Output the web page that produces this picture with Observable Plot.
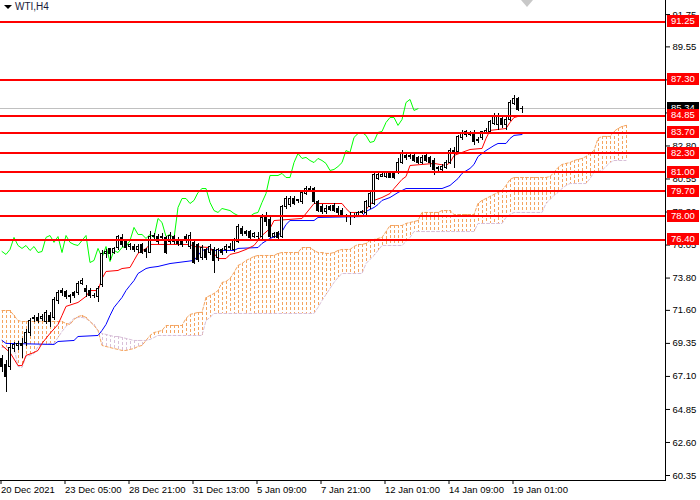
<!DOCTYPE html>
<html><head><meta charset="utf-8">
<script src="https://cdn.jsdelivr.net/npm/d3@7"></script>
<script src="https://cdn.jsdelivr.net/npm/@observablehq/plot@0.6"></script>
<style>
body{margin:0;background:#fff;}
#wrap{position:relative;width:700px;height:500px;overflow:hidden;background:#fff;}
#wrap svg .crisp{shape-rendering:crispEdges;}
#title{position:absolute;left:4px;top:1px;font:10px "Liberation Sans",Arial,sans-serif;color:#1a1a3a;}
#title span.tri{display:inline-block;width:0;height:0;border-left:4px solid transparent;border-right:4px solid transparent;border-top:4px solid #000;margin-right:3px;vertical-align:middle;}
#shift{position:absolute;left:521px;top:0;width:0;height:0;border-left:6px solid transparent;border-right:6px solid transparent;border-top:7px solid #c8c8c8;}
</style></head><body>
<div id="wrap"><div id="title"><span class="tri"></span>WTI,H4</div><div id="shift"></div></div>
<script>
// ---- candles (H4 bars, oldest first) ----
const opens = [
68.32,67.85,67.71,69.00,69.14,69.28,69.35,70.03,70.98,71.05,
70.98,70.78,71.25,71.05,72.27,72.95,72.82,72.61,72.75,72.75,
73.43,73.09,72.95,72.61,72.48,73.30,75.47,75.75,75.54,75.82,
76.50,76.23,75.95,75.89,75.68,76.02,75.68,75.54,76.57,76.63,
76.50,76.50,76.23,76.57,76.36,76.23,76.63,75.89,76.16,76.02,
75.14,75.68,75.48,75.68,75.14,75.68,75.68,75.82,75.68,76.29,
77.11,76.91,76.91,76.63,76.63,76.57,77.86,77.79,76.63,76.84,
76.63,78.61,78.75,79.22,79.02,78.95,79.56,79.77,79.84,78.95,
78.61,78.27,78.61,78.68,78.54,78.40,78.06,78.00,78.06,78.06,
78.20,78.20,78.61,78.88,80.58,80.72,80.72,80.93,80.86,81.00,
81.67,82.15,82.15,82.15,81.95,81.67,82.15,81.95,81.81,81.27,
81.13,81.33,81.67,82.49,82.36,83.31,83.52,83.65,83.65,83.24,
83.31,83.65,83.72,84.33,84.20,84.67,84.26,84.60,85.69,85.97,
85.29];
const highs = [
68.53,68.19,69.35,69.41,69.48,69.69,70.30,71.05,71.25,71.39,
71.32,71.59,71.46,72.48,72.97,73.09,72.95,72.68,72.89,73.57,
73.77,73.30,73.09,72.75,73.23,75.68,75.75,75.82,75.89,76.70,
76.77,76.36,76.16,76.09,76.09,76.16,75.82,76.97,76.84,76.77,
76.84,76.63,76.91,76.70,76.57,76.36,76.77,76.91,76.36,76.16,
76.02,75.82,76.09,75.89,75.82,75.82,76.09,76.16,76.50,77.45,
77.32,77.04,77.04,76.91,76.91,78.13,78.27,77.93,76.91,76.97,
78.75,79.36,79.36,79.36,79.15,79.77,80.04,80.04,79.97,79.09,
78.81,78.75,78.75,78.88,78.68,78.54,78.13,78.27,78.20,78.34,
78.40,79.09,79.77,81.00,80.93,80.93,81.06,81.06,81.00,81.95,
82.49,82.29,82.29,82.29,82.08,82.15,82.29,82.08,81.95,81.40,
81.54,81.81,82.63,82.70,83.52,83.86,83.86,83.79,83.86,83.38,
83.79,83.99,84.54,85.01,85.01,84.88,84.81,85.90,86.24,86.10,
85.49];
const lows = [
67.37,66.00,67.50,68.73,68.87,68.32,69.14,69.82,70.78,70.71,
70.84,70.64,70.44,70.91,72.00,72.55,72.34,72.07,72.41,72.61,
73.30,72.48,72.41,72.41,72.14,73.16,75.14,75.00,75.41,75.68,
75.89,75.68,75.68,75.54,75.48,75.41,75.14,75.48,76.29,76.09,
76.36,75.41,76.09,76.09,75.95,75.89,76.16,75.75,74.73,74.86,
75.00,75.00,75.34,74.11,74.93,75.34,75.48,75.68,75.54,76.16,
76.63,76.63,76.36,76.50,76.36,76.43,77.32,76.50,76.50,76.36,
76.50,78.47,78.61,78.75,78.88,78.81,79.43,79.63,78.81,78.27,
78.13,78.13,78.34,78.27,78.06,77.93,77.59,77.38,77.86,78.00,
78.13,78.06,78.47,78.75,80.45,80.65,80.58,80.58,80.52,80.86,
81.54,81.81,81.88,81.67,81.54,81.54,81.67,81.33,80.79,81.06,
81.00,81.20,81.54,81.27,82.22,83.17,83.38,83.45,82.83,82.97,
83.17,83.58,83.58,84.20,83.86,83.99,83.86,84.47,85.56,85.15,
85.01];
const closes = [
67.71,67.03,69.07,69.21,69.28,69.14,70.03,70.91,71.05,70.91,
71.12,71.39,70.78,72.34,72.76,72.75,72.48,72.48,72.55,73.43,
73.57,72.82,72.61,72.55,73.09,75.47,75.61,75.41,75.75,76.57,
76.02,75.82,76.02,75.68,75.95,75.54,75.61,76.57,76.70,76.23,
76.63,75.54,76.70,76.23,76.09,76.02,76.36,76.70,74.86,75.00,
75.82,75.20,75.95,74.93,75.68,75.54,75.89,75.95,76.36,77.25,
76.77,76.77,76.50,76.77,76.57,77.86,77.59,76.63,76.77,76.50,
78.61,79.22,79.22,78.88,79.09,79.63,79.90,79.90,78.95,78.40,
78.27,78.54,78.47,78.40,78.20,78.06,78.00,78.06,78.00,78.20,
78.27,78.95,79.56,80.79,80.79,80.79,80.93,80.65,80.65,81.67,
82.29,81.95,82.02,81.81,81.67,81.95,81.81,81.61,81.13,81.20,
81.40,81.67,82.49,82.36,83.38,83.65,83.72,83.52,83.04,83.11,
83.72,83.79,84.40,84.74,84.74,84.20,84.60,85.76,85.97,85.22,
85.34];

// ---- Ichimoku lines (bar index, price) ----
const tenkanIdx = [0,2,4,5,6,8,9,10,12,14,15,16,19,21,22,24,25,26,29,30,32,33,34,36,37,47,48,52,53,54,56,57,59,61,63,65,67,68,75,78,85,86,87,90,91,93,95,97,98,100,101,102,108,111,112,113,115,117,120,121,122,126,127,128,130];
const tenkanVal = [69.21,68.73,67.84,67.84,68.53,68.73,68.87,69.35,70.03,70.64,71.25,71.87,72.14,72.55,72.95,72.95,73.77,74.25,74.32,74.45,74.52,75.00,75.48,75.82,76.09,76.09,75.95,75.88,75.48,75.13,75.13,75.41,75.54,75.75,76.02,76.70,77.18,77.72,77.86,78.88,78.88,78.54,78.27,78.27,78.47,79.09,79.29,79.56,79.90,80.52,80.72,81.47,81.61,81.47,81.67,82.15,82.36,82.56,82.63,83.31,83.86,83.99,84.40,84.74,84.88];
const kijunIdx = [0,1,13,14,18,19,24,25,26,27,28,29,30,31,32,33,34,36,37,39,42,48,49,50,52,53,58,59,64,65,67,69,70,71,72,78,79,90,91,93,94,95,97,99,101,110,112,114,115,117,118,119,121,123,124,126,127,128,130];
const kijunVal = [69.55,69.35,69.28,69.48,69.55,69.82,69.89,70.23,70.64,71.25,71.80,72.14,72.48,72.95,73.30,73.63,74.11,74.45,74.52,74.59,74.79,75.00,75.34,75.68,75.82,75.68,75.68,75.82,75.88,76.16,76.50,76.70,76.97,77.45,77.72,77.72,77.93,77.99,78.34,78.61,78.81,79.09,79.29,79.63,79.90,79.90,80.11,80.58,80.93,81.27,81.54,82.08,82.49,82.83,82.97,82.97,83.31,83.52,83.58];
const chikouShift = 26;

// Senkou span A / B, one value per bar (incl. 26 bars ahead)
const senkouA = [
71.59,71.59,71.59,71.25,70.91,70.84,70.84,70.84,70.84,70.84,
70.84,70.84,70.84,70.84,70.84,70.84,70.71,70.64,70.98,71.18,
71.25,71.12,70.84,70.57,70.23,69.21,69.14,69.07,69.00,68.94,
68.87,68.87,68.94,69.00,69.14,69.21,69.55,69.89,70.09,70.16,
70.23,70.57,70.57,70.57,70.57,70.57,71.05,71.32,71.39,71.46,
71.46,72.48,72.61,72.75,72.95,73.50,73.57,73.77,74.18,74.66,
74.79,75.00,75.13,75.27,75.34,75.34,75.34,75.34,75.34,75.48,
75.54,75.54,75.54,75.54,75.54,75.88,75.88,75.88,75.68,75.54,
75.54,75.48,75.48,75.54,75.68,75.75,75.75,75.75,75.95,76.09,
76.09,76.16,76.36,76.43,76.50,76.57,76.97,77.38,77.38,77.38,
77.38,77.52,77.59,77.65,77.72,78.27,78.27,78.27,78.27,78.27,
78.40,78.40,78.40,78.13,78.13,78.13,78.13,78.13,78.13,78.88,
79.09,79.22,79.36,79.50,79.63,79.77,80.11,80.52,80.65,80.65,
80.65,80.65,80.65,80.65,80.65,80.65,80.65,80.72,81.00,81.33,
81.54,81.61,81.67,81.81,81.88,81.95,82.08,82.29,82.49,83.31,
83.45,83.45,83.45,83.79,83.99,84.13,84.20];
const senkouB = [
69.07,69.07,69.07,69.07,67.78,67.71,68.46,68.53,68.66,69.14,
69.28,69.28,69.35,69.35,69.75,70.16,70.50,70.78,71.05,71.12,
71.12,71.05,70.84,70.64,70.23,70.03,69.96,69.89,69.82,69.82,
69.75,69.69,69.62,69.55,69.55,69.55,69.55,69.62,69.75,69.89,
69.89,69.89,69.89,69.89,69.89,69.89,69.89,69.89,69.89,69.89,
69.89,70.91,71.12,71.39,71.39,71.39,71.39,71.39,71.39,71.39,
71.39,71.39,71.39,71.39,71.39,71.39,71.39,71.39,71.39,71.39,
71.39,71.39,71.39,71.39,71.39,71.39,71.39,71.39,71.39,71.80,
72.27,72.68,73.09,73.50,73.84,74.11,74.11,74.11,74.11,74.11,
74.11,74.79,75.07,75.34,75.68,76.02,76.02,76.02,76.02,76.02,
76.02,76.29,76.57,76.97,76.97,76.97,76.97,76.97,76.97,76.97,
76.97,76.97,76.97,76.97,76.97,76.97,76.97,76.97,76.97,77.52,
77.52,77.52,77.52,77.52,77.52,77.52,77.93,78.13,78.27,78.27,
78.27,78.27,78.27,78.27,78.27,78.27,78.88,79.15,79.43,79.63,
79.90,80.11,80.24,80.24,80.24,80.24,80.24,80.58,81.00,81.06,
81.13,81.40,81.67,81.81,81.81,81.81,81.81];

// ---- horizontal levels, price, axis ticks ----
const levels = [91.25, 87.30, 84.85, 83.70, 82.30, 81.00, 79.70, 78.00, 76.40];
const currentPrice = 85.34;
const yTicks = [60.35, 62.60, 64.85, 67.10, 69.35, 71.60, 73.80, 76.05, 78.30, 80.55, 82.80, 85.05, 87.30, 89.55, 91.75];
const yTicksCovered = [85.05, 87.30];
const xTickIdx = [0, 16, 32, 48, 64, 80, 96, 112, 128];
const xTickLabels = ["20 Dec 2021", "23 Dec 05:00", "28 Dec 21:00", "31 Dec 13:00", "5 Jan 09:00", "7 Jan 21:00", "12 Jan 01:00", "14 Jan 09:00", "19 Jan 01:00"];

// ---- build tables ----
const bars = opens.map((o, i) => ({i, o, h: highs[i], l: lows[i], c: closes[i]}));
const tenkan = tenkanIdx.map((i, k) => ({i, v: tenkanVal[k]}));
const kijun = kijunIdx.map((i, k) => ({i, v: kijunVal[k]}));
const chikou = closes.map((c, i) => ({i: i - chikouShift, c})).filter(d => d.i >= 0);
const cloud = senkouA.map((a, i) => ({i, a, b: senkouB[i]}));
const font = "'Liberation Sans', Arial, sans-serif";

const plot = Plot.plot({
  width: 700, height: 500,
  marginLeft: 0, marginRight: 35, marginTop: 0, marginBottom: 20,
  style: {fontFamily: font, fontSize: "9.5px", background: "#fff", color: "#000"},
  x: {type: "linear", domain: [-0.375, 165.875], label: null},
  y: {domain: [60.01, 92.71], label: null},
  color: {type: "identity"},
  marks: [
    Plot.ruleX(cloud, {x: "i", y1: "a", y2: "b", stroke: d => d.a >= d.b ? "#f4a460" : "#d8bfd8", strokeDasharray: "3,2", strokeWidth: 1, className: "crisp"}),
    Plot.line(cloud, {x: "i", y: "b", stroke: "#d8bfd8", strokeDasharray: "3,2", strokeWidth: 1}),
    Plot.line(cloud, {x: "i", y: "a", stroke: "#f4a460", strokeDasharray: "3,2", strokeWidth: 1}),
    Plot.ruleY([currentPrice], {stroke: "#c0c0c0", strokeWidth: 1, className: "crisp"}),
    Plot.line(chikou, {x: "i", y: "c", stroke: "#00ff00", strokeWidth: 1}),
    Plot.line(kijun, {x: "i", y: "v", stroke: "#0000ff", strokeWidth: 1}),
    Plot.line(tenkan, {x: "i", y: "v", stroke: "#ff0000", strokeWidth: 1}),
    Plot.ruleX(bars, {x: "i", y1: "l", y2: "h", stroke: "#000", strokeWidth: 1, className: "crisp"}),
    Plot.rect(bars, {x1: d => d.i - 0.3, x2: d => d.i + 0.3, y1: "o", y2: "c", fill: d => d.c >= d.o ? "#fff" : "#000", stroke: "#000", strokeWidth: 1, className: "crisp"}),
    Plot.ruleY(levels, {stroke: "#ff0000", strokeWidth: 2, className: "crisp"}),
    Plot.axisY(yTicks, {anchor: "right", tickSize: 4, tickPadding: 3, tickFormat: d => yTicksCovered.includes(d) ? "" : d.toFixed(2), fontSize: 9.5, stroke: "#000", fill: "#000"}),
    Plot.axisX(xTickIdx, {anchor: "bottom", tickSize: 4, tickPadding: 2, tickFormat: d => xTickLabels[xTickIdx.indexOf(d)], textAnchor: "start", dx: -1, fontSize: 9.5, stroke: "#000", fill: "#000"})
  ]
});

document.getElementById("wrap").prepend(plot);

// axis lines and price tags, placed through the plot's own scales
const xs = plot.scale("x"), ysc = plot.scale("y");
const yf = d3.scaleLinear(ysc.domain, ysc.range);
const right = xs.range[1], bottom = ysc.range[0];
const svg = d3.select(plot);
const g = svg.append("g").attr("font-family", font).attr("font-size", 9.5).attr("text-anchor", "start");
g.append("line").attr("x1", right + 0.5).attr("x2", right + 0.5).attr("y1", 0).attr("y2", bottom).attr("stroke", "#000").attr("class", "crisp");
g.append("line").attr("x1", 0).attr("x2", right + 1).attr("y1", bottom + 0.5).attr("y2", bottom + 0.5).attr("stroke", "#000").attr("class", "crisp");
function tag(v, fill) {
  const y = Math.round(yf(v));
  g.append("rect").attr("x", right + 2).attr("y", y - 6).attr("width", 32).attr("height", 12).attr("fill", fill).attr("class", "crisp");
  g.append("text").attr("x", right + 6).attr("y", y).attr("dy", "0.36em").attr("text-anchor", "start").attr("fill", "#fff").text(v.toFixed(2));
}
tag(currentPrice, "#000");
levels.forEach(v => tag(v, "#ff0000"));
</script>
</body></html>
